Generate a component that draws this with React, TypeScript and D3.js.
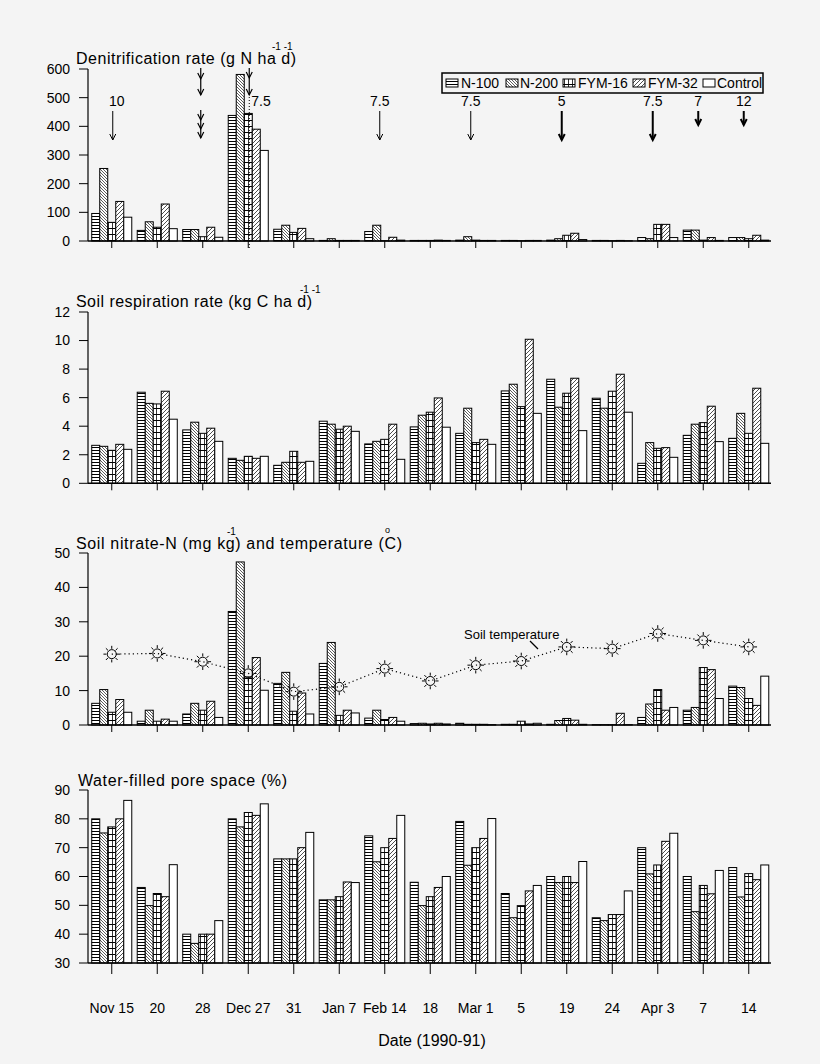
import React from "react";
import * as d3 from "d3";

// ---------- data ----------
const dates = ["Nov 15", "20", "28", "Dec 27", "31", "Jan 7", "Feb 14", "18", "Mar 1", "5", "19", "24", "Apr 3", "7", "14"];
const treatments = ["N-100", "N-200", "FYM-16", "FYM-32", "Control"];

// Denitrification rate (g N ha-1 d-1)
const denitN100 = [96, 37, 40, 438, 41, 2, 33, 2, 3, 2, 3, 2, 12, 38, 12];
const denitN200 = [253, 67, 40, 581, 55, 8, 55, 2, 15, 2, 8, 2, 8, 38, 12];
const denitFYM16 = [65, 48, 15, 445, 30, 2, 1, 2, 3, 1, 20, 1, 58, 3, 8];
const denitFYM32 = [138, 129, 48, 390, 44, 2, 13, 3, 2, 2, 27, 2, 58, 12, 20];
const denitControl = [83, 43, 13, 316, 8, 2, 3, 2, 2, 2, 5, 1, 12, 2, 3];

// Soil respiration rate (kg C ha-1 d-1)
const respN100 = [2.66, 6.38, 3.74, 1.75, 1.26, 4.35, 2.76, 3.95, 3.5, 6.47, 7.29, 5.96, 1.4, 3.36, 3.15];
const respN200 = [2.59, 5.6, 4.28, 1.61, 1.47, 4.14, 2.94, 4.77, 5.26, 6.94, 5.33, 5.26, 2.85, 4.14, 4.9];
const respFYM16 = [2.31, 5.56, 3.5, 1.89, 2.24, 3.79, 3.08, 4.98, 2.85, 5.37, 6.31, 6.45, 2.45, 4.25, 3.5];
const respFYM32 = [2.73, 6.45, 3.86, 1.75, 1.47, 4.0, 4.14, 5.98, 3.08, 10.09, 7.36, 7.64, 2.5, 5.4, 6.66];
const respControl = [2.38, 4.49, 2.94, 1.89, 1.54, 3.64, 1.68, 3.93, 2.73, 4.9, 3.69, 4.98, 1.82, 2.92, 2.8];

// Soil nitrate-N (mg kg-1)
const nitN100 = [6.3, 1.1, 3.2, 33, 12.1, 17.9, 2.0, 0.4, 0.5, 0.2, 0.2, 0.1, 2.2, 4.3, 11.3];
const nitN200 = [10.3, 4.3, 6.3, 47.4, 15.3, 24, 4.3, 0.5, 0.2, 0.2, 1.3, 0.1, 6.1, 5.1, 10.9];
const nitFYM16 = [3.7, 1.1, 4.3, 14, 4.0, 2.8, 1.6, 0.3, 0.2, 1.1, 1.9, 0.1, 10.3, 16.7, 7.7];
const nitFYM32 = [7.4, 1.7, 6.9, 19.6, 9.3, 4.3, 2.2, 0.5, 0.2, 0.3, 1.4, 3.4, 4.3, 16.1, 5.7];
const nitControl = [3.7, 1.1, 2.2, 10.1, 3.2, 3.5, 1.1, 0.3, 0.1, 0.5, 0.2, 0.1, 5.1, 7.7, 14.2];

// Soil temperature (°C)
const soilTemp = [20.6, 20.8, 18.4, 15.0, 9.7, 11.1, 16.4, 12.8, 17.4, 18.6, 22.7, 22.2, 26.6, 24.6, 22.7];

// Water-filled pore space (%)
const wfpsN100 = [80, 56.2, 40, 80, 66.1, 51.9, 74.1, 58, 79.1, 54.1, 60, 45.7, 70, 60, 63.1];
const wfpsN200 = [75.1, 49.9, 36.8, 77.2, 66.1, 51.9, 65.1, 49.9, 63.9, 45.7, 57.9, 44.7, 60.9, 47.8, 52.9];
const wfpsFYM16 = [77.2, 54.1, 40, 82.2, 66.1, 53, 70, 53, 70, 49.9, 60, 46.8, 64, 56.9, 61];
const wfpsFYM32 = [80, 53, 40, 81.2, 70, 58.1, 73.2, 56.2, 73.2, 55, 57.9, 46.8, 72.2, 54, 58.9];
const wfpsControl = [86.4, 64.1, 44.7, 85.2, 75.3, 57.9, 81.2, 60, 80.1, 56.9, 65.2, 55, 75, 62.1, 64];

const denitTicks = [0, 100, 200, 300, 400, 500, 600];
const respTicks = [0, 2, 4, 6, 8, 10, 12];
const nitTicks = [0, 10, 20, 30, 40, 50];
const wfpsTicks = [30, 40, 50, 60, 70, 80, 90];

// irrigation annotations (panel 1)
const arrowDates = ["Nov 15", "Dec 27", "Feb 14", "Mar 1", "19", "Apr 3", "7", "14"];
const arrowLabels = ["10", "7.5", "7.5", "7.5", "5", "7.5", "7", "12"];

const FONT = "'Liberation Sans', Arial, Helvetica, sans-serif";
const patIds = ["pN100", "pN200", "pFYM16", "pFYM32", "pCtrl"];

function Sun({ cx, cy }: { cx: number; cy: number }) {
  const rays = d3
    .range(8)
    .map((k) => {
      const a = (k * Math.PI) / 4;
      return `M${cx + Math.cos(a) * 5.3},${cy + Math.sin(a) * 5.3}L${cx + Math.cos(a) * 8.3},${cy + Math.sin(a) * 8.3}`;
    })
    .join("");
  return (
    <g>
      <circle cx={cx} cy={cy} r={4.5} fill="none" stroke="#000" strokeWidth={1} />
      <path d={rays} stroke="#000" strokeWidth={1} />
    </g>
  );
}

function Arrow({ x, y1, y2, heads, gap, sw }: { x: number; y1: number; y2: number; heads: number; gap: number; sw: number }) {
  const hs = d3.range(heads).map((k) => y2 - k * gap);
  return (
    <g stroke="#000" strokeWidth={sw} fill="none">
      <line x1={x} y1={y1} x2={x} y2={y2} />
      {hs.map((hy, i) => (
        <path key={i} d={`M${x - 3},${hy - 6}L${x},${hy}L${x + 3},${hy - 6}`} />
      ))}
    </g>
  );
}

export default function App() {
  const W = 820;
  const H = 1064;
  const axisX = 88;
  const xEnd = 771;

  const x0 = d3.scaleBand<string>().domain(dates).range([89, 771.5]).paddingInner(0.12).paddingOuter(0.06);
  const x1 = d3.scaleBand<string>().domain(treatments).range([0, x0.bandwidth()]);
  const xc = (d: string) => (x0(d) as number) + x0.bandwidth() / 2;

  const panels = [
    {
      key: "denit",
      series: [denitN100, denitN200, denitFYM16, denitFYM32, denitControl],
      y: d3.scaleLinear().domain([0, 600]).range([241, 69]),
      ticks: denitTicks,
      base: 0,
      tickLen: 7,
    },
    {
      key: "resp",
      series: [respN100, respN200, respFYM16, respFYM32, respControl],
      y: d3.scaleLinear().domain([0, 12]).range([483.3, 312]),
      ticks: respTicks,
      base: 0,
      tickLen: 7,
    },
    {
      key: "nit",
      series: [nitN100, nitN200, nitFYM16, nitFYM32, nitControl],
      y: d3.scaleLinear().domain([0, 50]).range([725, 553]),
      ticks: nitTicks,
      base: 0,
      tickLen: 7,
    },
    {
      key: "wfps",
      series: [wfpsN100, wfpsN200, wfpsFYM16, wfpsFYM32, wfpsControl],
      y: d3.scaleLinear().domain([30, 90]).range([963, 790]),
      ticks: wfpsTicks,
      base: 30,
      tickLen: 11,
    },
  ];

  const tempY = panels[2].y;
  const tempLine = d3
    .line<number>()
    .x((_, i) => xc(dates[i]))
    .y((d) => tempY(d));

  const legendX = [446, 506, 563, 633, 703];
  const legendTextX = [461, 520, 578, 648, 717];

  return (
    <svg
      width={W}
      height={H}
      viewBox={`0 0 ${W} ${H}`}
      style={{ position: "absolute", left: 0, top: 0, display: "block" }}
      fontFamily={FONT}
    >
      <defs>
        <pattern id="pN100" patternUnits="userSpaceOnUse" width={4} height={3}>
          <rect width={4} height={3} fill="#fff" />
          <line x1={0} y1={0.5} x2={4} y2={0.5} stroke="#000" strokeWidth={1} />
        </pattern>
        <pattern id="pN200" patternUnits="userSpaceOnUse" width={3} height={3}>
          <rect width={3} height={3} fill="#fff" />
          <path d="M-1,2L1,4M0,0L3,3M2,-1L4,1" stroke="#333" strokeWidth={0.8} />
        </pattern>
        <pattern id="pFYM16" patternUnits="userSpaceOnUse" width={4} height={6}>
          <rect width={4} height={6} fill="#fff" />
          <line x1={0} y1={0.5} x2={4} y2={0.5} stroke="#000" strokeWidth={1} />
          <line x1={0.5} y1={0} x2={0.5} y2={6} stroke="#000" strokeWidth={0.8} />
        </pattern>
        <pattern id="pFYM32" patternUnits="userSpaceOnUse" width={4} height={4}>
          <rect width={4} height={4} fill="#fff" />
          <path d="M0,4L4,0M-1,1L1,-1M3,5L5,3" stroke="#222" strokeWidth={0.8} />
        </pattern>
        <pattern id="pCtrl" patternUnits="userSpaceOnUse" width={4} height={4}>
          <rect width={4} height={4} fill="#fff" />
        </pattern>
      </defs>

      <rect x={0} y={0} width={W} height={H} fill="#f4f4f4" />

      {panels.map((p) => (
        <g key={p.key}>
          {p.series.map((vals, t) => (
            <g key={t}>
              {vals.map((v, i) => {
                const yv = p.y(v);
                const yb = p.y(p.base);
                return (
                  <rect
                    key={i}
                    x={(x0(dates[i]) as number) + (x1(treatments[t]) as number)}
                    y={yv}
                    width={x1.bandwidth()}
                    height={Math.max(0, yb - yv)}
                    fill={`url(#${patIds[t]})`}
                    stroke="#000"
                    strokeWidth={1}
                  />
                );
              })}
            </g>
          ))}
          <line x1={axisX} y1={p.y.range()[1]} x2={axisX} y2={p.y(p.base)} stroke="#000" strokeWidth={1.2} />
          <line x1={axisX} y1={p.y(p.base)} x2={xEnd} y2={p.y(p.base)} stroke="#000" strokeWidth={1.5} />
          {p.ticks.map((t) => (
            <g key={t}>
              <line x1={axisX - 9} x2={axisX} y1={p.y(t)} y2={p.y(t)} stroke="#000" strokeWidth={1} />
              <text x={70} y={p.y(t)} dy="0.35em" textAnchor="end" fontSize={14} fill="#000">
                {t}
              </text>
            </g>
          ))}
          {dates.map((d) => (
            <line key={d} x1={xc(d)} x2={xc(d)} y1={p.y(p.base)} y2={p.y(p.base) + p.tickLen} stroke="#000" strokeWidth={1} />
          ))}
        </g>
      ))}

      {/* Titles */}
      <text x={76} y={64} fontSize={16} textLength={220} lengthAdjust="spacing">
        Denitrification rate (g N ha d)
      </text>
      <text x={272} y={50} fontSize={10}>-1 -1</text>

      <text x={76} y={307} fontSize={16} textLength={236} lengthAdjust="spacing">
        Soil respiration rate (kg C ha d)
      </text>
      <text x={300} y={293} fontSize={10}>-1 -1</text>

      <text x={76} y={549} fontSize={16} textLength={326} lengthAdjust="spacing">
        Soil nitrate-N (mg kg) and temperature (C)
      </text>
      <text x={227} y={535} fontSize={10}>-1</text>
      <text x={385} y={533} fontSize={9}>o</text>

      <text x={78} y={786} fontSize={16} textLength={209} lengthAdjust="spacing">
        Water-filled pore space (%)
      </text>

      {/* Legend */}
      <rect x={442} y={73} width={321} height={20} fill="none" stroke="#000" strokeWidth={1.5} />
      {treatments.map((t, i) => (
        <g key={t}>
          <rect x={legendX[i]} y={79} width={12} height={8} fill={`url(#${patIds[i]})`} stroke="#000" strokeWidth={1} />
          <text x={legendTextX[i]} y={88} fontSize={14}>
            {t}
          </text>
        </g>
      ))}

      {/* Irrigation arrows (panel 1) */}
      {arrowDates.map((d, i) => {
        const lab = arrowLabels[i];
        const isDec = d === "Dec 27";
        const late = i >= 2;
        const x = xc(d) + (late ? -5 : 1);
        if (isDec) {
          return (
            <g key={i}>
              <Arrow x={x} y1={68} y2={95} heads={2} gap={17} sw={1.2} />
              <line x1={x} y1={97} x2={x} y2={250} stroke="#000" strokeWidth={1} strokeDasharray="1,2" />
              <text x={x + 2} y={106} fontSize={14}>
                {lab}
              </text>
            </g>
          );
        }
        const short = d === "7" || d === "14";
        const bold = d === "19" || d === "Apr 3";
        return (
          <g key={i}>
            <text x={x + (i === 0 ? 4 : 0)} y={106} fontSize={14} textAnchor="middle">
              {lab}
            </text>
            <Arrow x={x} y1={111} y2={short ? 125 : 140} heads={1} gap={8} sw={bold || short ? 2 : 1} />
          </g>
        );
      })}
      <Arrow x={xc("28") - 2} y1={68} y2={95} heads={2} gap={16} sw={1.2} />
      <Arrow x={xc("28") - 2} y1={110} y2={138} heads={3} gap={9} sw={1.2} />

      {/* Soil temperature line (panel 3) */}
      <path d={tempLine(soilTemp) || ""} fill="none" stroke="#000" strokeWidth={1.2} strokeDasharray="1.2,3" />
      {soilTemp.map((v, i) => (
        <Sun key={i} cx={xc(dates[i])} cy={tempY(v)} />
      ))}
      <text x={464} y={639} fontSize={13}>
        Soil temperature
      </text>
      <line x1={530} y1={641} x2={538} y2={649} stroke="#000" strokeWidth={1.2} />

      {/* x-axis labels */}
      {dates.map((d) => (
        <text key={d} x={xc(d)} y={1013} fontSize={14} textAnchor="middle">
          {d}
        </text>
      ))}
      <text x={432} y={1046} fontSize={16} textAnchor="middle">
        Date (1990-91)
      </text>
    </svg>
  );
}
